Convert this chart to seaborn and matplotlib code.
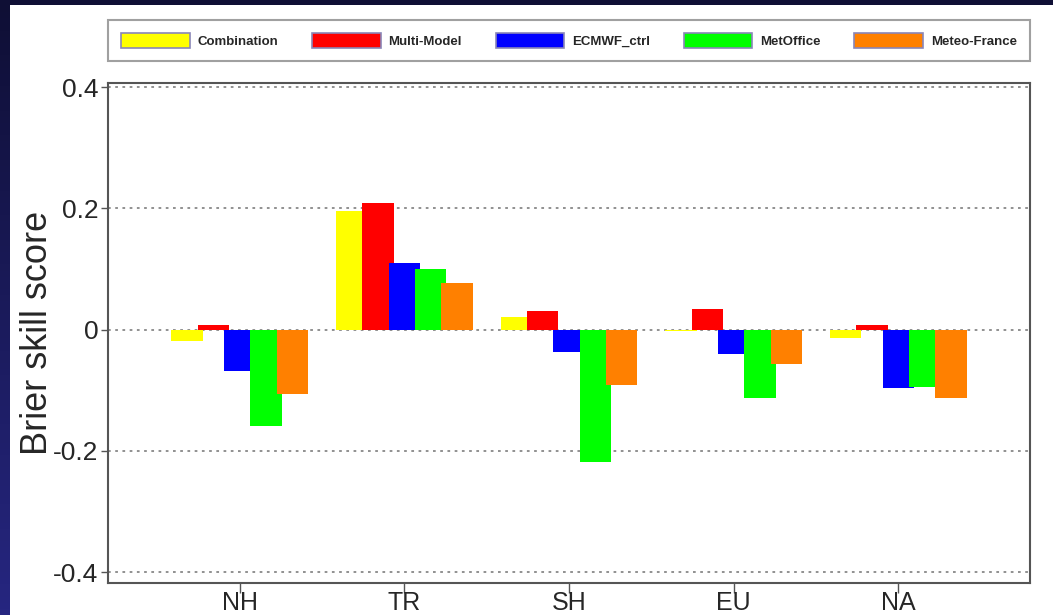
import matplotlib
matplotlib.use("Agg")
import matplotlib.pyplot as plt
from matplotlib.colors import LinearSegmentedColormap
from matplotlib.patches import Rectangle
import seaborn as sns
import numpy as np
import pandas as pd

regions = ["NH", "TR", "SH", "EU", "NA"]
models = ["Combination", "Multi-Model", "ECMWF_ctrl", "MetOffice", "Meteo-France"]
combination = [-0.018, 0.195, 0.021, -0.002, -0.013]
multi_model = [0.007, 0.209, 0.030, 0.034, 0.008]
ecmwf_ctrl = [-0.068, 0.110, -0.037, -0.040, -0.096]
metoffice = [-0.159, 0.100, -0.219, -0.112, -0.094]
meteo_france = [-0.106, 0.077, -0.092, -0.056, -0.112]
colors = ["#ffff00", "#ff0000", "#0000ff", "#00ff00", "#ff8000"]

scores = [combination, multi_model, ecmwf_ctrl, metoffice, meteo_france]
rows = []
for m, vals in zip(models, scores):
    for r, v in zip(regions, vals):
        rows.append({"region": r, "model": m, "score": v})
df = pd.DataFrame(rows)

sns.set_style("white")
plt.rcParams["font.family"] = ["Liberation Sans", "DejaVu Sans"]

fig = plt.figure(figsize=(10.53, 6.15), dpi=100, facecolor="white")

# dark slide frame: top strip and gradient left strip
fig.patches.append(Rectangle((0, 1 - 5 / 615), 1, 5 / 615, transform=fig.transFigure,
                             facecolor="#0f0f35", edgecolor="none", zorder=0))
side = fig.add_axes([0, 0, 9 / 1053, 1])
cmap = LinearSegmentedColormap.from_list("side", ["#0f0f35", "#262680"])
side.imshow(np.linspace(0, 1, 100).reshape(-1, 1), aspect="auto", cmap=cmap, origin="upper")
side.set_axis_off()

ax = fig.add_axes([108 / 1053, 32 / 615, 922 / 1053, 500 / 615])
sns.barplot(data=df, x="region", y="score", hue="model", order=regions, hue_order=models,
            palette=colors, width=0.8, gap=-0.19, linewidth=0, saturation=1, ax=ax,
            errorbar=None)

ax.set_xlim(-0.8, 4.8)
ax.set_ylim(-0.418, 0.407)
ax.set_yticks([-0.4, -0.2, 0, 0.2, 0.4])
ax.set_yticklabels(["-0.4", "-0.2", "0", "0.2", "0.4"])
ax.yaxis.grid(True, linestyle=(0, (1.5, 2.5)), color="#888888", linewidth=1.3)
ax.set_axisbelow(True)
ax.tick_params(axis="y", labelsize=19, length=5, width=1, color="#555555", pad=2, left=True)
ax.tick_params(axis="x", labelsize=18, length=7, width=1, color="#555555", pad=-1, bottom=True)
ax.set_xlabel("")
ax.set_ylabel("Brier skill score", fontsize=26)
ax.yaxis.set_label_coords(-0.057, 0.5)
for s in ax.spines.values():
    s.set_visible(True)
    s.set_color("#555555")
    s.set_linewidth(1.5)

handles, labels = ax.get_legend_handles_labels()
ax.get_legend().remove()
for h in handles:
    h.set_edgecolor("#8a86b8")
    h.set_linewidth(1.2)
leg = fig.legend(handles, labels, ncol=5, mode="expand",
                 bbox_to_anchor=(108 / 1053, 1 - 60 / 615, 922 / 1053, 39 / 615),
                 loc="center", fontsize=9.5, frameon=True, fancybox=False,
                 handlelength=5.2, handleheight=1.3, handletextpad=0.6,
                 borderpad=1.0, borderaxespad=0)
leg.get_frame().set_edgecolor("#888888")
leg.get_frame().set_linewidth(1.5)
for t in leg.get_texts():
    t.set_fontweight("bold")

fig.savefig("out.png", dpi=100, facecolor="white")
